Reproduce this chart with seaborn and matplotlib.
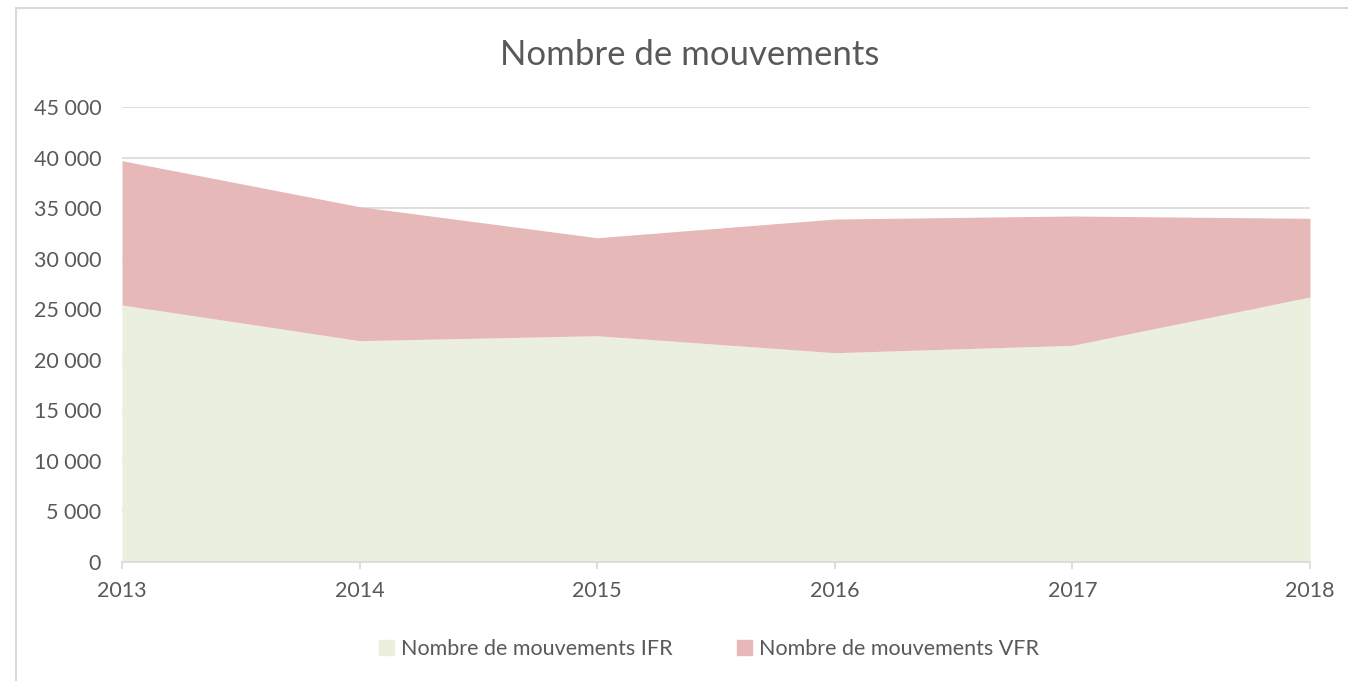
import matplotlib
matplotlib.use("Agg")
import matplotlib.pyplot as plt
import matplotlib.patches as mpatches
from matplotlib.lines import Line2D
import seaborn as sns
import pandas as pd

years = [2013, 2014, 2015, 2016, 2017, 2018]
ifr = [25420, 21890, 22380, 20700, 21430, 26210]
vfr = [14270, 13250, 9690, 13220, 12790, 7780]
series_labels = ["Nombre de mouvements IFR", "Nombre de mouvements VFR"]
title = "Nombre de mouvements"
yticks = list(range(0, 45001, 5000))

colors = ["#EBEFDE", "#E6B8B7"]
text_c = "#595959"
grid_c = "#D9D9D9"

sns.set_theme(style="white")
plt.rcParams["font.family"] = ["Lato", "DejaVu Sans"]

df = pd.DataFrame({"year": years, "IFR": ifr, "VFR": vfr})

fig = plt.figure(figsize=(13.48, 6.81), dpi=100)
ax = fig.add_axes([122/1348, 1-562/681, (1310-122)/1348, (562-107)/681])

ax.stackplot(df["year"], df["IFR"], df["VFR"], colors=colors, labels=series_labels,
             linewidth=0, zorder=2)

ax.set_xlim(2013, 2018)
ax.set_ylim(0, 45000)
ax.set_yticks(yticks)
ax.set_yticklabels([f"{v:,}".replace(",", " ") for v in yticks])
ax.set_xticks(years)
ax.set_xticklabels([str(y) for y in years])
ax.set_axisbelow(True)
ax.yaxis.grid(True, color=grid_c, linewidth=1.2, zorder=0.5)
for s in ["top", "right", "left"]:
    ax.spines[s].set_visible(False)
ax.spines["bottom"].set_color(grid_c)
ax.spines["bottom"].set_linewidth(1.2)
ax.spines["bottom"].set_zorder(3)
ax.tick_params(axis="y", length=0, labelsize=15.5, labelcolor=text_c, pad=15)
ax.tick_params(axis="x", length=5, color=grid_c, labelsize=15.5, labelcolor=text_c, pad=9, bottom=True)
ax.set_xlabel("")
ax.set_ylabel("")

fig.text(690/1348, 1-55/681, title, ha="center", va="center", fontsize=25, color=text_c)

handles = [mpatches.Patch(color=c, label=l) for c, l in zip(colors, series_labels)]
fig.legend(handles=handles, loc="center", bbox_to_anchor=(0.526, 1-649/681), ncol=2,
           frameon=False, fontsize=15.5, labelcolor=text_c, handlelength=0.7, handleheight=0.7,
           handletextpad=0.3, columnspacing=3.0)

top_line = Line2D([16/1348, 1], [1-8/681, 1-8/681], transform=fig.transFigure,
                  color=grid_c, linewidth=1.5)
left_line = Line2D([16/1348, 16/1348], [0, 1-8/681], transform=fig.transFigure,
                   color=grid_c, linewidth=1.5)
fig.lines.extend([top_line, left_line])

fig.savefig("out.png", dpi=100)
